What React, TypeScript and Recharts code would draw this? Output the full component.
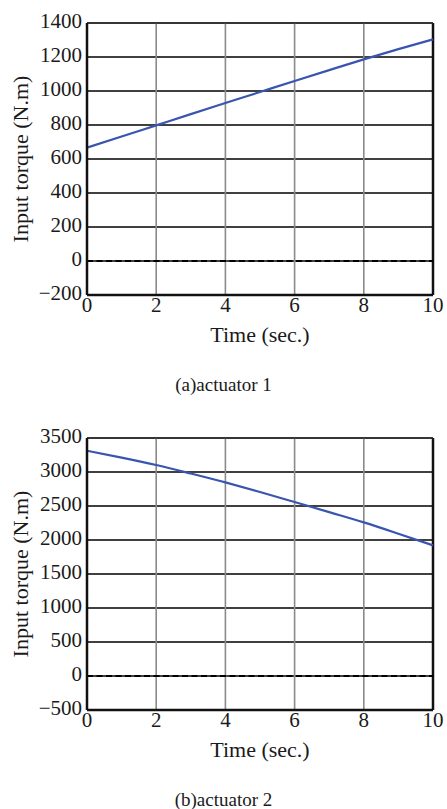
import { CartesianGrid, Line, LineChart, ReferenceLine, XAxis, YAxis } from 'recharts';

const time = [0, 1, 2, 3, 4, 5, 6, 7, 8, 9, 10];
const torque1 = [667, 732, 798, 864, 929, 994, 1059, 1123, 1186, 1246, 1304];
const torque2 = [3313, 3212, 3103, 2978, 2847, 2706, 2559, 2410, 2259, 2093, 1921];

const xTicks = [0, 2, 4, 6, 8, 10];
const yTicks1 = [-200, 0, 200, 400, 600, 800, 1000, 1200, 1400];
const yTicks2 = [-500, 0, 500, 1000, 1500, 2000, 2500, 3000, 3500];

const FONT = '"Liberation Serif", "DejaVu Serif", serif';
const LINE_COLOR = '#3a55b0';

const fmt = (v: number) => (v < 0 ? `\u2212${Math.abs(v)}` : `${v}`);

function YLabel(props: any) {
  const { viewBox } = props;
  const x = viewBox.x + 20;
  const y = viewBox.y + viewBox.height / 2;
  return (
    <text
      x={x}
      y={y}
      transform={`rotate(-90, ${x}, ${y})`}
      textAnchor="middle"
      dominantBaseline="central"
      fontSize={22}
      fontFamily={FONT}
      fill="#1a1a1a"
    >
      Input torque (N.m)
    </text>
  );
}

function TorquePlot({ values, ticks }: { values: number[]; ticks: number[] }) {
  const rows = time.map((t, i) => ({ t, v: values[i] }));
  const lo = ticks[0];
  const hi = ticks[ticks.length - 1];
  return (
    <LineChart width={447} height={350} data={rows} margin={{ top: 23, right: 14, left: 0, bottom: 0 }}>
      <CartesianGrid vertical={false} stroke="#000" strokeWidth={1.3} />
      {xTicks.slice(1, -1).map((t) => (
        <ReferenceLine key={t} x={t} stroke="#8a8a8a" strokeWidth={1.6} />
      ))}
      <XAxis
        dataKey="t"
        type="number"
        domain={[0, 10]}
        ticks={xTicks}
        height={55}
        tickLine={false}
        tickSize={0}
        tickMargin={2}
        axisLine={{ stroke: '#111', strokeWidth: 2.5 }}
        tick={{ fontSize: 21, fill: '#1a1a1a', fontFamily: FONT }}
        label={{ value: 'Time (sec.)', position: 'insideBottom', offset: 8, fontSize: 22, fill: '#1a1a1a', fontFamily: FONT }}
      />
      <YAxis
        type="number"
        domain={[lo, hi]}
        ticks={ticks}
        width={87}
        tickLine={false}
        tickSize={0}
        tickMargin={5}
        tickFormatter={fmt}
        axisLine={{ stroke: '#111', strokeWidth: 2.5 }}
        tick={{ fontSize: 21, fill: '#1a1a1a', fontFamily: FONT, dy: -2 }}
        label={<YLabel />}
      />
      <ReferenceLine x={10} stroke="#111" strokeWidth={2.5} />
      <ReferenceLine y={hi} stroke="#333" strokeWidth={1.5} />
      <ReferenceLine y={0} stroke="#000" strokeWidth={2} strokeDasharray="6 3.5" />
      <Line
        dataKey="v"
        type="monotone"
        stroke={LINE_COLOR}
        strokeWidth={2.2}
        dot={false}
        isAnimationActive={false}
      />
    </LineChart>
  );
}

export default function App() {
  return (
    <div style={{ position: 'absolute', top: 0, left: 0, width: 447, height: 809, background: '#fff', fontFamily: FONT }}>
      <div style={{ position: 'absolute', top: 0, left: 0 }}>
        <TorquePlot values={torque1} ticks={yTicks1} />
      </div>
      <div style={{ position: 'absolute', top: 374, left: 0, width: 447, textAlign: 'center', fontSize: 19, color: '#1a1a1a' }}>
        (a)actuator 1
      </div>
      <div style={{ position: 'absolute', top: 415, left: 0 }}>
        <TorquePlot values={torque2} ticks={yTicks2} />
      </div>
      <div style={{ position: 'absolute', top: 789, left: 0, width: 447, textAlign: 'center', fontSize: 19, color: '#1a1a1a' }}>
        (b)actuator 2
      </div>
    </div>
  );
}
